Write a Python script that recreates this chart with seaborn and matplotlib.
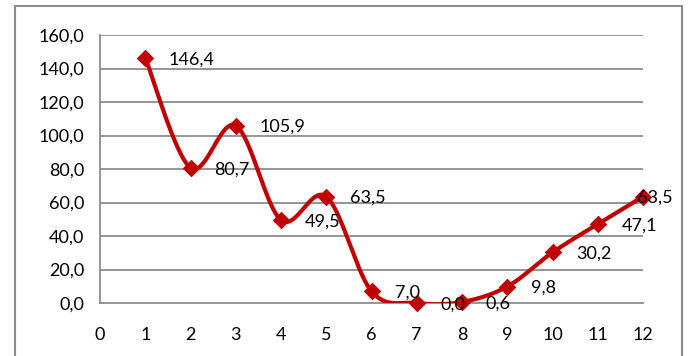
import matplotlib
matplotlib.use("Agg")
import matplotlib.pyplot as plt
import numpy as np
import pandas as pd
import seaborn as sns
from matplotlib.patches import Rectangle

months = [1, 2, 3, 4, 5, 6, 7, 8, 9, 10, 11, 12]
values = [146.4, 80.7, 105.9, 49.5, 63.5, 7.0, 0.0, 0.6, 9.8, 30.2, 47.1, 63.5]
x_ticks = list(range(0, 13))
y_ticks = [0, 20, 40, 60, 80, 100, 120, 140, 160]

LINE_COLOR = "#C00000"
GRID_COLOR = "#8C8C8C"


def smooth_curve(xs, ys, steps=40):
    # Catmull-Rom style smoothing like Excel's "smoothed line"
    pts = np.column_stack([xs, ys]).astype(float)
    padded = np.vstack([pts[0], pts, pts[-1]])
    out = []
    for i in range(len(pts) - 1):
        p0, p1, p2, p3 = padded[i], padded[i + 1], padded[i + 2], padded[i + 3]
        c1 = p1 + (p2 - p0) / 6
        c2 = p2 - (p3 - p1) / 6
        t = np.linspace(0, 1, steps)[:, None]
        seg = ((1 - t) ** 3) * p1 + 3 * ((1 - t) ** 2) * t * c1 + 3 * (1 - t) * t ** 2 * c2 + t ** 3 * p2
        out.append(seg if i == 0 else seg[1:])
    arr = np.vstack(out)
    return arr[:, 0], arr[:, 1]


def main() -> None:
    sns.set_theme(style="white")
    plt.rcParams["font.family"] = ["Lato", "DejaVu Sans"]

    df = pd.DataFrame({"month": months, "value": values})
    sx, sy = smooth_curve(months, values)
    curve = pd.DataFrame({"x": sx, "y": sy})

    fig = plt.figure(figsize=(6.92, 3.56), dpi=100)
    ax = fig.add_axes([100 / 692, 1 - 303 / 356, 543 / 692, 268 / 356])

    # chart border
    fig.patches.append(
        Rectangle((15 / 692, -0.05), 667 / 692, 1.05 - 6 / 356, transform=fig.transFigure,
                  fill=False, edgecolor="#8C8C8C", linewidth=1.5)
    )

    for y in y_ticks[1:]:
        ax.axhline(y, color=GRID_COLOR, linewidth=1.3, zorder=0)

    sns.lineplot(data=curve, x="x", y="y", ax=ax, color=LINE_COLOR, linewidth=3,
                 sort=False, estimator=None, zorder=3)
    sns.scatterplot(data=df, x="month", y="value", ax=ax, color=LINE_COLOR, marker="D",
                    s=80, edgecolor=LINE_COLOR, linewidth=0, zorder=4, clip_on=False)

    last = len(months) - 1
    for i, (m, v) in enumerate(zip(months, values)):
        # last label gets pulled back inside the chart, as Excel does
        dx = -4 if i == last else 17
        ax.annotate(f"{v:.1f}".replace(".", ","), (m, v), xytext=(dx, -1),
                    textcoords="offset points", ha="left", va="center", fontsize=13,
                    color="black", zorder=5, annotation_clip=False)

    ax.set_xlim(0, 12)
    ax.set_ylim(0, 160)
    ax.set_xticks(x_ticks)
    ax.set_yticks(y_ticks)
    ax.set_yticklabels([f"{t:.1f}".replace(".", ",") for t in y_ticks])
    ax.set_xlabel("")
    ax.set_ylabel("")
    ax.tick_params(axis="both", which="both", direction="out", length=5, width=1.3,
                   color=GRID_COLOR, labelsize=13, labelcolor="black")
    ax.tick_params(axis="y", pad=6.5)
    ax.tick_params(axis="x", pad=12)
    for side in ["top", "right"]:
        ax.spines[side].set_visible(False)
    for side in ["left", "bottom"]:
        ax.spines[side].set_color(GRID_COLOR)
        ax.spines[side].set_linewidth(1.3)
    ax.grid(False)

    fig.savefig("out.png", dpi=100)
    plt.close(fig)


if __name__ == "__main__":
    main()
